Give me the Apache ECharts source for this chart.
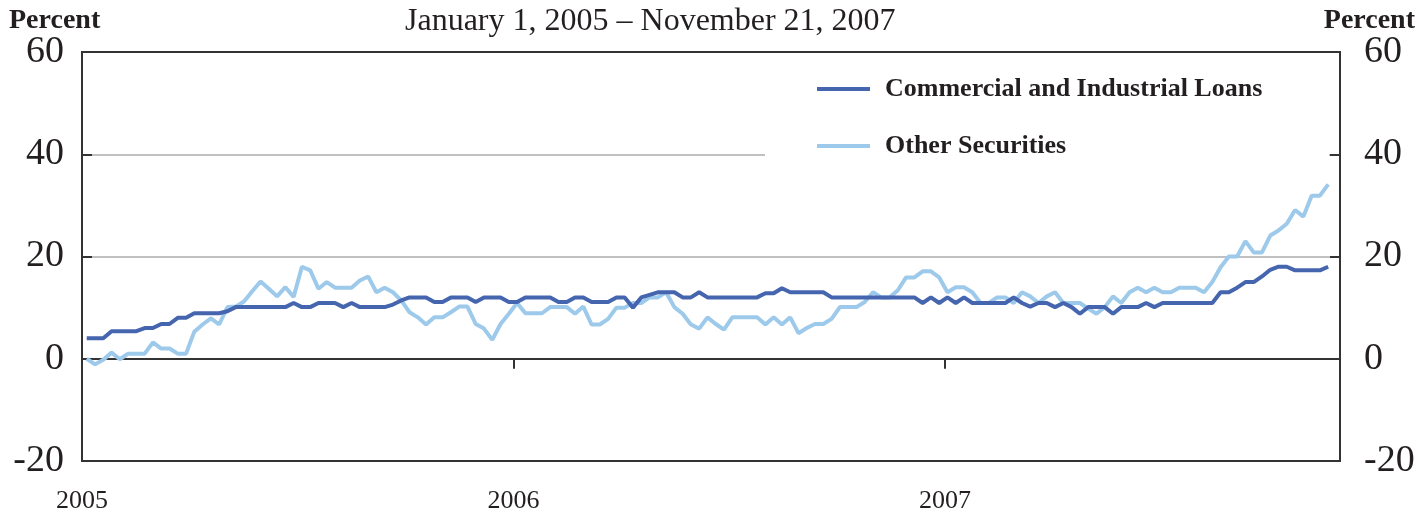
<!DOCTYPE html>
<html>
<head>
<meta charset="utf-8">
<script src="https://cdn.jsdelivr.net/npm/echarts@6.0.0/dist/echarts.min.js"></script>
<style>
  html, body { margin: 0; padding: 0; background: #fff; }
  #chart { width: 1419px; height: 513px; }
</style>
</head>
<body>
<div id="chart"></div>
<script>
// weekly readings, first Wednesday of 2005 through Nov 21, 2007
var startYear = 2005, startMonth = 0, startDay = 5;
var weekCount = 151;

// Commercial and Industrial Loans, percent
var loans = [
  4, 4, 4, 5.4, 5.4, 5.4, 5.4, 6, 6, 6.8,
  6.8, 8, 8, 8.9, 8.9, 8.9, 8.9, 9.3, 10.1, 10.1,
  10.1, 10.1, 10.1, 10.1, 10.1, 10.9, 10.1, 10.1, 10.9, 10.9,
  10.9, 10.1, 10.9, 10.1, 10.1, 10.1, 10.1, 10.6, 11.4, 12,
  12, 12, 11.1, 11.1, 12, 12, 12, 11.1, 12, 12,
  12, 11.1, 11.1, 12, 12, 12, 12, 11.1, 11.1, 12,
  12, 11.1, 11.1, 11.1, 12, 12, 10, 12, 12.5, 13,
  13, 13, 12, 12, 13, 12, 12, 12, 12, 12,
  12, 12, 12.8, 12.8, 13.8, 13, 13, 13, 13, 13,
  12, 12, 12, 12, 12, 12, 12, 12, 12, 12,
  12, 10.9, 12, 10.9, 12, 10.9, 12, 10.9, 10.9, 10.9,
  10.9, 10.9, 12, 10.9, 10.2, 10.9, 10.9, 10.1, 10.9, 10.1,
  8.8, 10.1, 10.1, 10.1, 8.8, 10.1, 10.1, 10.1, 10.9, 10.1,
  10.9, 10.9, 10.9, 10.9, 10.9, 10.9, 10.9, 13, 13, 13.9,
  15, 15, 16.1, 17.4, 18, 18, 17.3, 17.3, 17.3, 17.3,
  18
];

// Other Securities, percent
var securities = [
  0, -1.1, -0.2, 1.2, -0.1, 1, 1, 1, 3.2, 2,
  2, 1, 1, 5.3, 6.7, 7.9, 6.7, 10.1, 10.2, 11.2,
  13.2, 15.1, 13.7, 12.2, 14, 12.1, 18, 17.3, 13.7, 15,
  13.9, 13.9, 13.9, 15.3, 16.1, 13, 13.9, 13, 11.4, 9.1,
  8.1, 6.7, 8.1, 8.1, 9.1, 10.2, 10.2, 6.8, 5.9, 3.7,
  6.8, 8.8, 10.9, 8.9, 8.9, 8.9, 10.1, 10.1, 10.1, 8.8,
  10.2, 6.7, 6.7, 7.8, 10, 10, 10.9, 10.9, 12, 12,
  13, 10.1, 8.8, 6.7, 5.9, 8.1, 6.8, 5.7, 8.1, 8.1,
  8.1, 8.1, 6.7, 8.1, 6.7, 8.1, 5, 6, 6.8, 6.8,
  7.8, 10.1, 10.1, 10.1, 11.1, 13, 12, 12, 13.4, 15.9,
  15.9, 17.1, 17.1, 15.9, 13, 14, 14, 13, 10.9, 10.9,
  12, 12, 10.9, 13, 12.2, 10.9, 12.2, 13, 10.9, 10.9,
  10.9, 9.8, 8.8, 10.1, 12.2, 10.9, 13, 13.9, 13, 13.9,
  13, 13, 13.9, 13.9, 13.9, 13, 15, 17.9, 20, 20,
  23, 20.8, 20.8, 24.1, 25.1, 26.4, 29.1, 27.8, 31.9, 31.9,
  34.1
];

var yMin = -20, yMax = 60, yStep = 20;
var xMin = new Date(2005, 0, 1).getTime();
var xMax = new Date(2007, 11, 1).getTime();

var weeks = [];
for (var i = 0; i < weekCount; i++) {
  weeks.push(new Date(startYear, startMonth, startDay + 7 * i).getTime());
}

function pairs(vals) {
  return vals.map(function (v, i) { return [weeks[i], v]; });
}

var serif = '"Liberation Serif", "Times New Roman", serif';
var ink = '#231f20';
var axisCol = '#333';

var myChart = echarts.init(document.getElementById('chart'));
var option = {
  animation: false,
  title: {
    text: 'January 1, 2005 \u2013 November 21, 2007',
    left: 405, top: 6, padding: 0,
    textStyle: { fontFamily: serif, fontWeight: 'normal', fontSize: 32, color: ink }
  },
  graphic: [
    { type: 'rect', z: 3, silent: true,
      shape: { x: 765, y: 60, width: 564, height: 110 },
      style: { fill: '#fff' } },
    { type: 'text', left: 9, top: 7,
      style: { text: 'Percent', font: 'bold 28px ' + serif, fill: ink } },
    { type: 'text', right: 4, top: 7,
      style: { text: 'Percent', font: 'bold 28px ' + serif, fill: ink } }
  ],
  legend: {
    orient: 'vertical', left: 817, top: 76, padding: 0,
    icon: 'rect', itemWidth: 53, itemHeight: 4, itemGap: 31,
    selectedMode: false, z: 4,
    textStyle: { fontFamily: serif, fontWeight: 'bold', fontSize: 26, lineHeight: 26,
                 color: ink, padding: [0, 0, 0, 10] }
  },
  grid: {
    left: 82, right: 79, top: 52, bottom: 52,
    outerBoundsMode: 'none',
    show: true, borderColor: axisCol, borderWidth: 2
  },
  xAxis: {
    type: 'time', min: xMin, max: xMax,
    minInterval: 365 * 24 * 3600 * 1000,
    z: 1,
    axisLine: { onZero: true, lineStyle: { color: axisCol, width: 2 } },
    axisTick: { show: true, length: 10, lineStyle: { color: axisCol, width: 2 } },
    axisLabel: {
      margin: 27, fontFamily: serif, fontSize: 26, color: ink,
      showMaxLabel: false,
      formatter: function (v) {
        var d = new Date(v);
        return (d.getMonth() === 0 && d.getDate() === 1) ? String(d.getFullYear()) : '';
      }
    },
    splitLine: { show: false }
  },
  yAxis: [
    {
      type: 'value', min: yMin, max: yMax, interval: yStep, position: 'left',
      axisLine: { show: true, lineStyle: { color: axisCol, width: 2 } },
      axisTick: { show: true, inside: true, length: 10, lineStyle: { color: axisCol, width: 2 } },
      axisLabel: { margin: 18, fontFamily: serif, fontSize: 38, color: ink },
      splitLine: { show: true, showMinLine: false, showMaxLine: false,
                   lineStyle: { color: '#c0c0c0', width: 2 } }
    },
    {
      type: 'value', min: yMin, max: yMax, interval: yStep, position: 'right',
      axisLine: { show: true, lineStyle: { color: axisCol, width: 2 } },
      axisTick: { show: true, inside: true, length: 10, lineStyle: { color: axisCol, width: 2 } },
      axisLabel: { margin: 24, fontFamily: serif, fontSize: 38, color: ink },
      splitLine: { show: false }
    }
  ],
  series: [
    {
      name: 'Commercial and Industrial Loans', type: 'line', z: 3,
      data: pairs(loans), showSymbol: false, symbol: 'none',
      lineStyle: { width: 4, color: '#4565af' }, itemStyle: { color: '#4565af' }
    },
    {
      name: 'Other Securities', type: 'line', z: 2,
      data: pairs(securities), showSymbol: false, symbol: 'none',
      lineStyle: { width: 4, color: '#9dc9eb' }, itemStyle: { color: '#9dc9eb' }
    }
  ]
};
myChart.setOption(option);
</script>
</body>
</html>
